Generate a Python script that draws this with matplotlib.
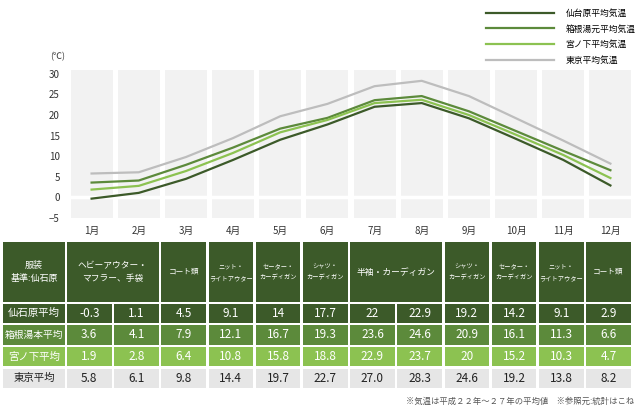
import numpy as np
import matplotlib
matplotlib.use("Agg")
import matplotlib.pyplot as plt
from matplotlib.patches import Rectangle

plt.rcParams["font.family"] = ["Noto Sans CJK JP", "DejaVu Sans"]

# データ
months = ["1月", "2月", "3月", "4月", "5月", "6月", "7月", "8月", "9月", "10月", "11月", "12月"]
sengokuhara = [-0.3, 1.1, 4.5, 9.1, 14, 17.7, 22, 22.9, 19.2, 14.2, 9.1, 2.9]
yumoto = [3.6, 4.1, 7.9, 12.1, 16.7, 19.3, 23.6, 24.6, 20.9, 16.1, 11.3, 6.6]
miyanoshita = [1.9, 2.8, 6.4, 10.8, 15.8, 18.8, 22.9, 23.7, 20, 15.2, 10.3, 4.7]
tokyo = [5.8, 6.1, 9.8, 14.4, 19.7, 22.7, 27.0, 28.3, 24.6, 19.2, 13.8, 8.2]
legend_names = ["仙台原平均気温", "箱根湯元平均気温", "宮ノ下平均気温", "東京平均気温"]
row_names = ["仙石原平均", "箱根湯本平均", "宮ノ下平均", "東京平均"]
# 服装 (開始月, 月数, ラベル)
clothes = [
    (0, 2, "ヘビーアウター・\nマフラー、手袋"),
    (2, 1, "コート類"),
    (3, 1, "ニット・\nライトアウター"),
    (4, 1, "セーター・\nカーディガン"),
    (5, 1, "シャツ・\nカーディガン"),
    (6, 2, "半袖・カーディガン"),
    (8, 1, "シャツ・\nカーディガン"),
    (9, 1, "セーター・\nカーディガン"),
    (10, 1, "ニット・\nライトアウター"),
    (11, 1, "コート類"),
]

c_dark = "#3c5a29"
c_mid = "#5c8a3b"
c_light = "#8cc251"
c_gray = "#bdbdbd"
colors = [c_dark, c_mid, c_light, c_gray]

W, H = 640, 413
fig = plt.figure(figsize=(6.4, 4.13), dpi=100)

# グラフ部分
top, bottom = 69.7, 218
ax = fig.add_axes([68 / W, 1 - bottom / H, 566 / W, (bottom - top) / H])
x = np.arange(len(months))
for i in x:
    ax.axvspan(i - 0.445, i + 0.445, color="#f2f2f2", lw=0, zorder=0)
ax.axhline(0, color="white", lw=2.5, zorder=1)

series = [sengokuhara, yumoto, miyanoshita, tokyo]
for vals, col, name in zip(series, colors, legend_names):
    ax.plot(x, vals, color=col, lw=1.6, label=name, zorder=3)

ax.set_xlim(-0.5, 11.5)
ax.set_ylim(-5, 31)
ax.set_yticks(range(-5, 31, 5))
ax.set_xticks(x)
ax.set_xticklabels(months)
ax.tick_params(length=0, labelsize=7, colors="#333333")
ax.tick_params(axis="y", pad=6)
ax.tick_params(axis="x", pad=6)
for s in ax.spines.values():
    s.set_visible(False)
fig.text(50 / W, 1 - 57 / H, "(℃)", fontsize=6.5, color="#333333", va="center")

leg = ax.legend(loc="upper left", bbox_to_anchor=(478 / W, 1 - 1 / H),
                bbox_transform=fig.transFigure, frameon=False, fontsize=6.3,
                handlelength=7.8, handletextpad=1.3, labelspacing=0.75)

# 表部分
tx = fig.add_axes([0, 0, 1, 1])
tx.set_xlim(0, W)
tx.set_ylim(H, 0)
tx.axis("off")

pitch = 47.2
cw = 44.5
col0 = 67


def cell(x0, y0, w, h, fc, text, tc, fs):
    tx.add_patch(Rectangle((x0, y0), w, h, facecolor=fc, edgecolor="none"))
    tx.text(x0 + w / 2, y0 + h / 2, text, ha="center", va="center", color=tc,
            fontsize=fs, linespacing=1.6)


# ヘッダー
hy0, hy1 = 242, 302
cell(3, hy0, 62, hy1 - hy0, c_dark, "服装\n基準:仙石原", "white", 6.5)
for start, n, label in clothes:
    x0 = col0 + pitch * start
    w = pitch * (n - 1) + cw
    if n == 2:
        fs = 6.3
    elif "\n" in label:
        fs = 4.5
    else:
        fs = 5.5
    cell(x0, hy0, w, hy1 - hy0, c_dark, label, "white", fs)

rows_y = [(304, 322.5), (325, 344.5), (347, 366), (368.5, 388)]
row_colors = [c_dark, c_mid, c_light, "#e6e6e6"]
text_colors = ["white", "white", "white", "#222222"]
for r, (vals, (y0, y1), fc, tc) in enumerate(zip(series, rows_y, row_colors, text_colors)):
    cell(3, y0, 62, y1 - y0, fc, row_names[r], tc, 7 if r == 1 else 7.5)
    for i, v in enumerate(vals):
        s = "{:.1f}".format(v) if r == 3 else "{:g}".format(v)
        cell(col0 + pitch * i, y0, cw, y1 - y0, fc, s, tc, 8.5)

tx.text(634, 401, "※気温は平成２２年～２７年の平均値　※参照元:統計はこね",
        ha="right", va="center", fontsize=6, color="#555555")

fig.savefig("out.png", dpi=100, facecolor="white")
